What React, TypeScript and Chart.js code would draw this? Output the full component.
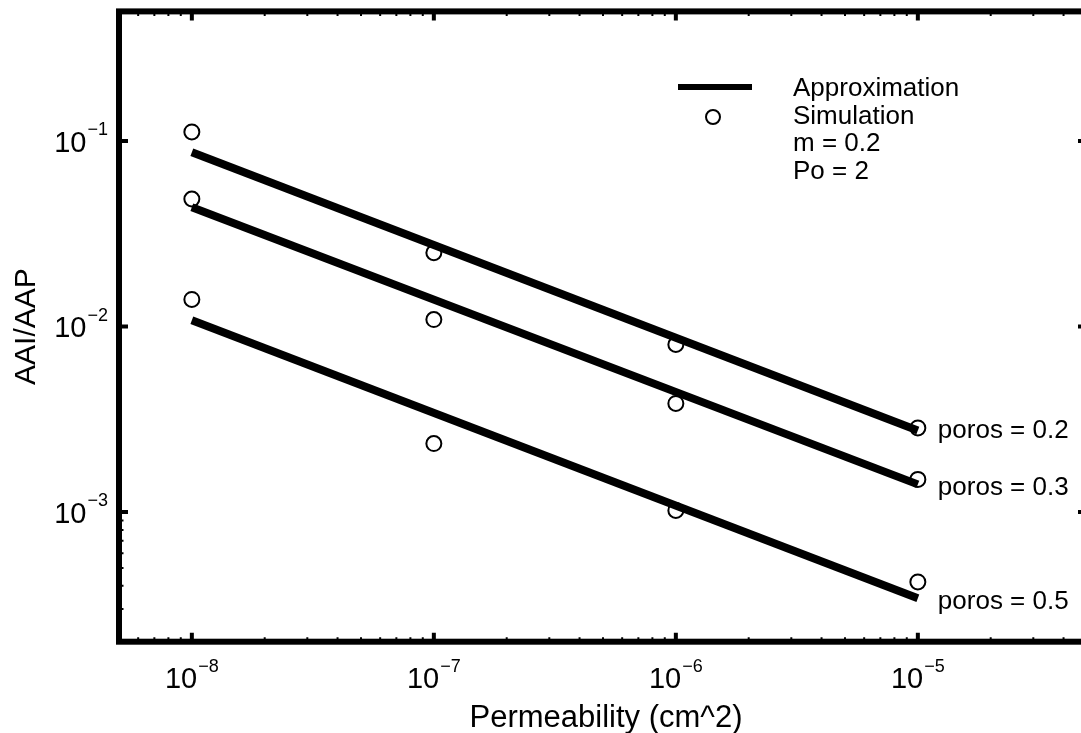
import React, { useEffect, useRef } from "react";
import { Chart, registerables } from "chart.js";

Chart.register(...registerables);

// ---- data ----
const permeability = [1e-8, 1e-7, 1e-6, 1e-5];
const simPoros02 = [0.112, 0.025, 0.008, 0.00284];
const simPoros03 = [0.0487, 0.0109, 0.00385, 0.0015];
const simPoros05 = [0.014, 0.00234, 0.00102, 0.00042];

const approxX = [1e-8, 1e-5];
const approxPoros02 = [0.087, 0.00275];
const approxPoros03 = [0.044, 0.00141];
const approxPoros05 = [0.0108, 0.000343];

const porosLabels = ["poros = 0.2", "poros = 0.3", "poros = 0.5"];
const porosLabelY = [0.00275, 0.00135, 0.00033];

const xTickValues = [1e-8, 1e-7, 1e-6, 1e-5];
const xTickExponents = ["\u22128", "\u22127", "\u22126", "\u22125"];
const yTickValues = [1e-1, 1e-2, 1e-3];
const yTickExponents = ["\u22121", "\u22122", "\u22123"];

const legendLabels = ["Approximation", "Simulation", "m = 0.2", "Po = 2"];
const xTitle = "Permeability (cm^2)";
const yTitle = "AAI/AAP";

const xRange = [5e-9, 5e-5];
const yRange = [2e-4, 0.5];

const FONT = "'Liberation Sans', Arial, Helvetica, sans-serif";
const CANVAS_W = 1100;
const CANVAS_H = 733;

const pts = (xs: number[], ys: number[]) => xs.map((x, i) => ({ x, y: ys[i] }));

const framePlugin = {
  id: "frameAndLabels",
  afterDraw(chart: any) {
    const { ctx, chartArea } = chart;
    const xs = chart.scales.x;
    const ys = chart.scales.y;
    const { left, right, top, bottom } = chartArea;
    ctx.save();
    ctx.strokeStyle = "#000";
    ctx.fillStyle = "#000";

    // frame
    ctx.lineWidth = 6;
    ctx.strokeRect(left, top, right - left, bottom - top);

    // minor ticks
    ctx.lineWidth = 2;
    ctx.beginPath();
    for (let e = -9; e <= -4; e++) {
      for (let m = 2; m <= 9; m++) {
        const v = m * Math.pow(10, e);
        if (v > xRange[0] && v < xRange[1]) {
          const px = xs.getPixelForValue(v);
          ctx.moveTo(px, bottom);
          ctx.lineTo(px, bottom - 4.5);
          ctx.moveTo(px, top);
          ctx.lineTo(px, top + 4.5);
        }
        if (v > yRange[0] && v < yRange[1]) {
          const py = ys.getPixelForValue(v);
          ctx.moveTo(left, py);
          ctx.lineTo(left + 4.5, py);
          ctx.moveTo(right, py);
          ctx.lineTo(right - 4.5, py);
        }
      }
    }
    ctx.stroke();

    // major ticks
    ctx.lineWidth = 4;
    ctx.beginPath();
    xTickValues.forEach((v) => {
      const px = xs.getPixelForValue(v);
      ctx.moveTo(px, bottom);
      ctx.lineTo(px, bottom - 9);
      ctx.moveTo(px, top);
      ctx.lineTo(px, top + 9);
    });
    yTickValues.forEach((v) => {
      const py = ys.getPixelForValue(v);
      ctx.moveTo(left, py);
      ctx.lineTo(left + 9, py);
      ctx.moveTo(right, py);
      ctx.lineTo(right - 9, py);
    });
    ctx.stroke();

    // x tick labels
    ctx.textBaseline = "alphabetic";
    ctx.textAlign = "left";
    xTickValues.forEach((v, i) => {
      const px = xs.getPixelForValue(v);
      ctx.font = `29px ${FONT}`;
      const w1 = ctx.measureText("10").width;
      ctx.font = `18px ${FONT}`;
      const w2 = ctx.measureText(xTickExponents[i]).width;
      const total = w1 + 1 + w2;
      const sx = px - total / 2;
      const base = bottom + 46.5;
      ctx.font = `29px ${FONT}`;
      ctx.fillText("10", sx, base);
      ctx.font = `18px ${FONT}`;
      ctx.fillText(xTickExponents[i], sx + w1 + 1, base - 16);
    });

    // y tick labels
    yTickValues.forEach((v, i) => {
      const py = ys.getPixelForValue(v);
      ctx.font = `18px ${FONT}`;
      const w2 = ctx.measureText(yTickExponents[i]).width;
      ctx.font = `29px ${FONT}`;
      const w1 = ctx.measureText("10").width;
      const ex = left - 11 - w2;
      const bx = ex - 1 - w1;
      ctx.fillText("10", bx, py + 10.5);
      ctx.font = `18px ${FONT}`;
      ctx.fillText(yTickExponents[i], ex, py - 6);
    });

    // axis titles
    ctx.font = `31px ${FONT}`;
    ctx.textAlign = "center";
    ctx.fillText(xTitle, (left + right) / 2 + 3, bottom + 85);

    ctx.save();
    ctx.translate(27, (top + bottom) / 2);
    ctx.rotate(-Math.PI / 2);
    ctx.font = `30px ${FONT}`;
    ctx.textBaseline = "middle";
    ctx.fillText(yTitle, 0, 0);
    ctx.restore();

    // legend
    ctx.lineWidth = 6;
    ctx.beginPath();
    ctx.moveTo(678, 87);
    ctx.lineTo(752, 87);
    ctx.stroke();
    ctx.lineWidth = 2;
    ctx.beginPath();
    ctx.arc(713, 117, 7, 0, Math.PI * 2);
    ctx.stroke();
    ctx.font = `26px ${FONT}`;
    ctx.textAlign = "left";
    ctx.textBaseline = "middle";
    legendLabels.forEach((t, i) => {
      ctx.fillText(t, 793, 89 + i * 27.6);
    });

    // poros labels
    const lx = xs.getPixelForValue(approxX[1]) + 20;
    porosLabels.forEach((t, i) => {
      ctx.fillText(t, lx, ys.getPixelForValue(porosLabelY[i]));
    });

    ctx.restore();
  },
};

export default function App() {
  const canvasRef = useRef<HTMLCanvasElement | null>(null);

  useEffect(() => {
    if (!canvasRef.current) return;
    const lineDs = (ys: number[]) => ({
      data: pts(approxX, ys),
      showLine: true,
      borderColor: "#000",
      borderWidth: 8,
      borderCapStyle: "butt",
      pointRadius: 0,
      fill: false,
    });
    const simDs = (ys: number[]) => ({
      data: pts(permeability, ys),
      showLine: false,
      borderColor: "#000",
      backgroundColor: "rgba(0,0,0,0)",
      pointStyle: "circle",
      pointRadius: 7.5,
      pointBorderWidth: 2,
      pointBorderColor: "#000",
      pointBackgroundColor: "rgba(0,0,0,0)",
    });
    const chart = new Chart(canvasRef.current, {
      type: "scatter",
      data: {
        datasets: [
          lineDs(approxPoros02),
          lineDs(approxPoros03),
          lineDs(approxPoros05),
          simDs(simPoros02),
          simDs(simPoros03),
          simDs(simPoros05),
        ] as any,
      },
      options: {
        animation: false,
        responsive: false,
        maintainAspectRatio: false,
        layout: {
          padding: { left: 119, top: 11.4, right: CANVAS_W - 1087, bottom: CANVAS_H - 641.7 },
        },
        scales: {
          x: { type: "logarithmic", min: xRange[0], max: xRange[1], display: false },
          y: { type: "logarithmic", min: yRange[0], max: yRange[1], display: false },
        },
        plugins: {
          legend: { display: false },
          tooltip: { enabled: false },
        },
      },
      plugins: [framePlugin],
    });
    return () => chart.destroy();
  }, []);

  return (
    <div
      style={{
        position: "fixed",
        left: 0,
        top: 0,
        width: 1081,
        height: 733,
        overflow: "hidden",
        background: "#fff",
      }}
    >
      <canvas
        ref={canvasRef}
        width={CANVAS_W}
        height={CANVAS_H}
        style={{ display: "block", width: CANVAS_W, height: CANVAS_H }}
      />
    </div>
  );
}
